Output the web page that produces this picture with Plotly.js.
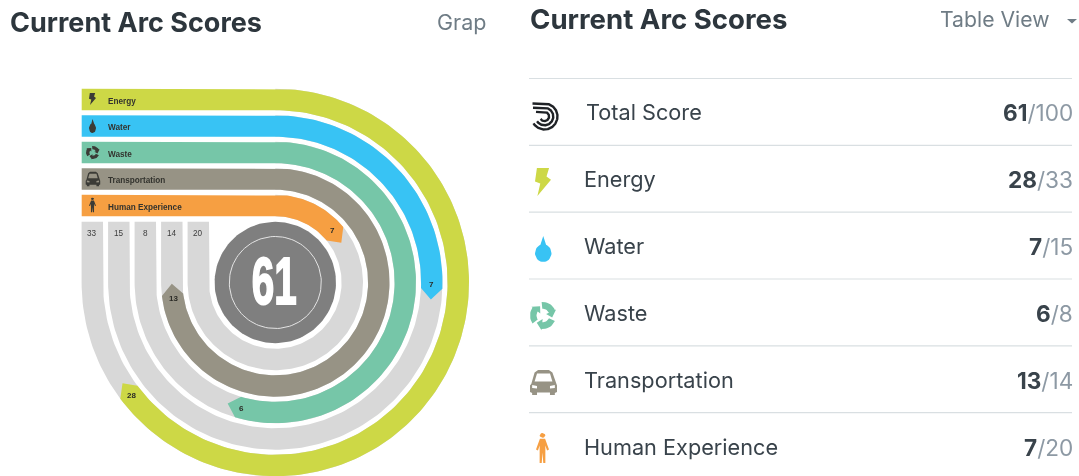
<!DOCTYPE html>
<html><head><meta charset="utf-8">
<script src="https://cdn.plot.ly/plotly-3.0.1.min.js"></script>
<style>html,body{margin:0;padding:0;background:#fff;overflow:hidden}#c{width:1079px;height:476px;filter:blur(0.45px)}</style>
</head><body><div id="c"></div>
<script>
// ---- data ----
const categories = ["Energy","Water","Waste","Transportation","Human Experience"];
const scores = [28,7,6,13,7];
const maxima = [33,15,8,14,20];
const totalScore = 61;
const totalMax = 100;
const tipSweepDeg = [236.6,96.2,201.5,269.3,59];   // clockwise from 12 o'clock, where each arc's point ends
const bandColors = ["#cdd846","#38c3f4","#76c6a8","#979385","#f69f42"];

// ---- geometry ----
const cx=275.3, cy=282.5, hw=10.7, leftX=81.7, trackTop=221.7, back=11;
const radii=[183,156.5,130,103.5,77];
const rad=d=>d*Math.PI/180;
const P=(r,d)=>[cx+r*Math.sin(rad(d)),cy-r*Math.cos(rad(d))];
function arc(r,a,b,c=P){const n=Math.max(2,Math.ceil(Math.abs(b-a)/1.5));const o=[];for(let i=0;i<=n;i++)o.push(c(r,a+(b-a)*i/n));return o;}
const traces=[];
function poly(pts,color){traces.push({type:'scatter',mode:'lines',x:pts.map(p=>p&&p[0]),y:pts.map(p=>p&&p[1]),fill:'toself',fillcolor:color,line:{width:0,color:color},hoverinfo:'skip'});}
function stroke(pts,color,w){traces.push({type:'scatter',mode:'lines',x:pts.map(p=>p[0]),y:pts.map(p=>p[1]),line:{width:w,color:color},hoverinfo:'skip'});}

// grey tracks
radii.forEach(r=>{
  poly([...arc(r+hw,0,270),[cx-r-hw,trackTop],[cx-r+hw,trackTop],...arc(r-hw,270,0)],"#d8d8d8");
});
// coloured bands
radii.forEach((r,i)=>{
  const t=tipSweepDeg[i], sh=t-back/r*180/Math.PI;
  poly([[leftX,cy-r-hw],...arc(r+hw,0,sh),P(r,t),...arc(r-hw,sh,0),[leftX,cy-r+hw]],bandColors[i]);
});
// centre disk
const circ=(r)=>{const o=[];for(let d=0;d<=360;d+=3)o.push(P(r,d));return o;};
poly(circ(60.7),"#7f7f7f");
stroke(circ(46),"#e4e4e4",1);

// ---- icons (unit boxes) ----
function place(pts,x0,y0,w,h){return pts.map(p=>p?[x0+p[0]*w,y0+p[1]*h]:null);}
const bolt=[[.12,0],[.88,0],[.72,.3],[1,.42],[.15,1],[.33,.55],[0,.48]];
const drop=(()=>{const o=[[.5,0]];for(let d=-70;d<=250;d+=10){o.push([.5+.5*Math.cos(rad(d)),.66+.34*Math.sin(rad(d))]);}return o;})();
const carBody=[[.05,.55],[.17,.1],[.3,0],[.7,0],[.83,.1],[.95,.5],[1,.62],[1,.88],[.92,.92],[.92,1],[.74,1],[.74,.9],[.26,.9],[.26,1],[.08,1],[.08,.92],[0,.88],[0,.62]];
const carGlass=[[.17,.46],[.26,.14],[.74,.14],[.83,.46]];
const carLampL=[[.08,.6],[.26,.64],[.26,.74],[.08,.72]];
const carLampR=[[.92,.6],[.74,.64],[.74,.74],[.92,.72]];
const personBody=[[.3,.19],[.7,.19],[1,.55],[.85,.58],[.72,.42],[.72,.62],[.72,1],[.56,1],[.5,.65],[.44,1],[.28,1],[.28,.62],[.28,.42],[.15,.58],[0,.55]];
const personHead=(()=>{const o=[];for(let d=0;d<=360;d+=30)o.push([.5+.22*Math.cos(rad(d)),.08+.08*Math.sin(rad(d))]);return o;})();
const recycle=(()=>{const o=[];const q=(r,d)=>[.5+.5*r*Math.sin(rad(d)),.5-.5*r*Math.cos(rad(d))];
  for(let k=0;k<3;k++){const s=k*120-6;const a=[];for(let d=0;d<=72;d+=8)a.push(q(1,s+d));a.push(q(1.1,s+72),q(.72,s+108),q(.26,s+72));for(let d=72;d>=0;d-=8)a.push(q(.5,s+d));o.push(...a,a[0],null);}return o;})();
function drawIcon(i,x0,y0,w,h,col,glass){
  if(i===0)poly(place(bolt,x0,y0,w,h),col);
  if(i===1)poly(place(drop,x0,y0,w,h),col);
  if(i===2)poly(place(recycle,x0,y0,w,h),col);
  if(i===3){poly(place(carBody,x0,y0,w,h),col);poly(place(carGlass,x0,y0,w,h),glass);poly(place(carLampL,x0,y0,w,h),glass);poly(place(carLampR,x0,y0,w,h),glass);}
  if(i===4){poly(place(personBody,x0,y0,w,h),col);poly(place(personHead,x0,y0,w,h),col);}
}
const leftIcons=[[89,93,7,12],[89,119,7,14],[86,146,13.5,13],[85.7,171.7,14.5,14.5],[89,197.7,7,14.5]];
leftIcons.forEach((b,i)=>drawIcon(i,b[0],b[1],b[2],b[3],"#3b3b36",bandColors[i]));
const rightIcons=[[535,168,16,28],[535,236,16.5,26],[530,302,26,27],[530,370,27,25],[536,433,13,30]];
rightIcons.forEach((b,i)=>drawIcon(i,b[0],b[1],b[2],b[3],bandColors[i],"#ffffff"));
// Total Score spiral icon
[[13,532.5],[8.8,533],[4.6,536]].forEach(([r,l])=>{
  const a=[[l,116.5-r],...arc(r,0,238,(rr,d)=>[544.5+rr*Math.sin(rad(d)),116.5-rr*Math.cos(rad(d))])];
  stroke(a,"#1f2226",2.4);
});

// ---- table rules ----
const ruleY=[78.5,145.3,212.2,279,345.8,412.7];
const shapes=ruleY.map(y=>({type:'line',xref:'x',yref:'y',x0:529,x1:1072,y0:y,y1:y,line:{color:'#d9dfe2',width:1.2}}));
poly([[1067,19],[1077,19],[1072,23.5]],"#6f7c85");

// ---- text ----
const uiFont="Inter, Lato, sans-serif";
const dark="#39434b", grey="#8d99a4", ui="#6f7c85";
const A=(x,y,text,size,color,anchor,family)=>({xref:'x',yref:'y',x:x+(anchor==='right'?2.5:anchor==='center'?0:-2.5),y,text,showarrow:false,xanchor:anchor||'left',yanchor:'middle',align:anchor||'left',font:{size,color,family:family||uiFont}});
const ann=[];
ann.push(A(10,22,"<b>Current Arc Scores</b>",27,"#2d363d"));
ann.push(A(437,22,"Grap",21.5,ui));
ann.push(A(530,19,"<b>Current Arc Scores</b>",27.6,"#2d363d"));
ann.push(A(940,19,"Table View",21.2,ui));
const small="Liberation Sans, Arimo, sans-serif";
categories.forEach((c,i)=>{
  const r=radii[i];
  ann.push(A(108,cy-r+1.5,"<b>"+c+"</b>",8.2,"#33332e",'left',small));
  ann.push(A(cx-r,233,String(maxima[i]),8.2,"#3c3c3c",'center',small));
  const lp=P(r,tipSweepDeg[i]-15/r*180/Math.PI);
  ann.push(A(lp[0],lp[1],"<b>"+scores[i]+"</b>",8,"#2b2b26",'center',small));
});
const rowY=[112,179,246,313,380,447];
const rowNames=["Total Score",...categories];
const rowScore=[totalScore,...scores], rowMax=[totalMax,...maxima];
rowNames.forEach((n,i)=>{
  ann.push(A(i===0?586:584,rowY[i],n,21.7,dark));
  ann.push(A(1072,rowY[i],`<b>${rowScore[i]}</b><span style="color:${grey}">/${rowMax[i]}</span>`,22.6,dark,'right'));
});
const bigFont="Liberation Sans, sans-serif";
ann.push(A(cx-1,cy-2.5,"<b>"+totalScore+"</b>",67,"#ffffff",'center',bigFont));

Plotly.newPlot('c',traces,{
  width:1079,height:476,margin:{l:0,r:0,t:0,b:0},showlegend:false,
  paper_bgcolor:'#fff',plot_bgcolor:'#fff',shapes,annotations:ann,
  xaxis:{range:[0,1079],visible:false,fixedrange:true},
  yaxis:{range:[476,0],visible:false,fixedrange:true}
},{displayModeBar:false,staticPlot:true}).then(gd=>{
  // condense and thicken the big central score to the reference's narrow heavy figures
  gd.querySelectorAll('.annotation text').forEach(t=>{
    if(t.textContent===String(totalScore) && parseFloat(t.style.fontSize)>40){
      t.setAttribute('textLength','45');t.setAttribute('lengthAdjust','spacingAndGlyphs');
      t.querySelectorAll('tspan').forEach(s=>{s.setAttribute('textLength','45');s.setAttribute('lengthAdjust','spacingAndGlyphs');});
      t.style.stroke='#ffffff';t.style.strokeWidth='2px';
    }
  });
});
</script></body></html>
